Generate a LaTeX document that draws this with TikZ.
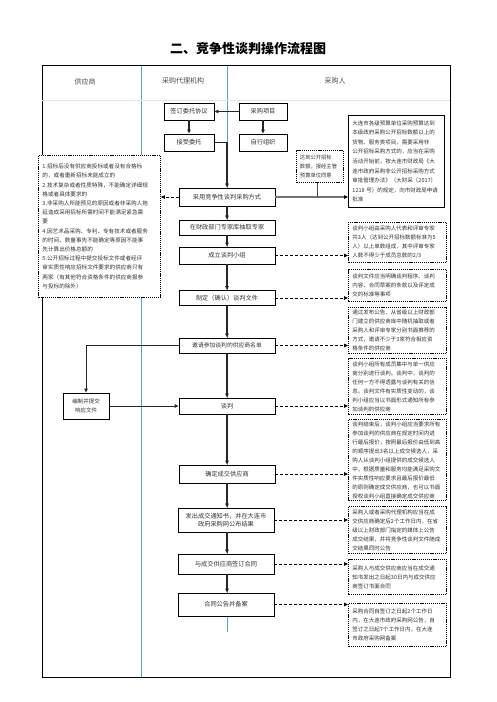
\documentclass[tikz,border=0pt]{standalone}
\usepackage{fontspec}
\setmainfont{Noto Sans CJK SC}
\usetikzlibrary{arrows.meta,positioning}
\definecolor{lineblue}{RGB}{91,155,213}

\begin{document}
\begin{tikzpicture}[x=1pt,y=-1pt,
  flowbox/.style={draw,line width=0.9pt,fill=white,minimum width=96pt,minimum height=17pt,inner sep=1pt,font=\fontsize{6.2}{8.5}\selectfont,text=black!80},
  notebox/.style={draw,line width=0.9pt,dash pattern=on 1.2pt off 0.9pt,fill=white,anchor=north west,text width=90pt,inner xsep=4pt,inner ysep=1pt,align=left,font=\fontsize{5.5}{9}\selectfont,text=black!80},
  go/.style={-{Triangle[length=4pt,width=3.6pt]},line width=1.1pt,black!85},
  hint/.style={-{Triangle[length=4pt,width=3.6pt]},line width=0.9pt,dash pattern=on 3pt off 2pt},
  colline/.style={draw=lineblue,line width=0.7pt}]
\useasboundingbox (0,0) rectangle (496,702);

\node[font=\fontsize{13}{15}\selectfont\bfseries] (title) at (248,49) {二、竞争性谈判操作流程图};

\draw[colline] (141,65) -- (141,677);
\draw[colline] (227,65) -- (227,632);
\draw[line width=1pt] (42,65) rectangle (450,677);
\draw[draw=lineblue!25,line width=0.5pt] (42,100) -- (450,100);
\node[font=\fontsize{7}{8}\selectfont,text=black!70] (supplier) at (85,82) {供应商};
\node[font=\fontsize{7}{8}\selectfont,text=black!70] (agency) at (183,81) {采购代理机构};
\node[font=\fontsize{7}{8}\selectfont,text=black!70] (buyer) at (335,81) {采购人};

\node[flowbox,minimum width=50pt] (sign) at (189,111.5) {签订委托协议};
\node[flowbox,minimum width=48pt] (proj) at (263,111.5) {采购项目};
\node[flowbox,minimum width=50pt] (accept) at (189,142.5) {接受委托};
\node[flowbox,minimum width=48pt] (self) at (263,142.5) {自行组织};
\node[flowbox,minimum height=18pt] (mode) at (227,197) {采用竞争性谈判采购方式};
\node[flowbox,minimum height=15pt] (expert) at (227,227.5) {在财政部门专家库抽取专家};
\node[flowbox] (group) at (227,255.5) {成立谈判小组};
\node[flowbox,minimum height=15pt] (doc) at (227,298) {制定（确认）谈判文件};
\node[flowbox,minimum height=15pt,font=\fontsize{5.8}{8}\selectfont] (invite) at (227,345.5) {邀请参加谈判的供应商名单};
\node[flowbox,minimum height=16pt] (nego) at (227,406) {谈判};
\node[flowbox,minimum height=18pt] (decide) at (227,474) {确定成交供应商};
\node[flowbox,minimum height=24pt,align=center] (notice) at (226,520) {发出成交通知书，并在大连市\\政府采购网公布结果};
\node[flowbox,minimum height=20pt] (contract) at (226,564) {与成交供应商签订合同};
\node[flowbox,minimum height=23pt] (record) at (226,604.5) {合同公告并备案};
\node[flowbox,minimum width=46pt,minimum height=26pt,align=center,font=\fontsize{5.5}{9}\selectfont] (respond) at (86,406) {编制并提交\\响应文件};

\node[notebox,text width=114pt,minimum height=142pt,font=\fontsize{5.6}{9.2}\selectfont] (cases) at (38,155) {1.招标后没有供应商投标或者没有合格标\\的，或者重新招标未能成立的\\2.技术复杂或者性质特殊，不能确定详细规\\格或者具体要求的\\3.非采购人所能预见的原因或者非采购人拖\\延造成采用招标所需时间不能满足紧急需\\要\\4.因艺术品采购、专利、专有技术或者服务\\的时间、数量事先不能确定等原因不能事\\先计算出价格总额的\\5.公开招标过程中提交投标文件或者经评\\审实质性响应招标文件要求的供应商只有\\两家（有其他符合资格条件的供应商报参\\与投标的除外）};
\node[notebox,text width=40pt,inner xsep=3.5pt,minimum height=32pt,font=\fontsize{5.3}{9}\selectfont] (limit) at (296,150) {达到公开招标\\数额，报经主管\\预算单位同意};
\node[draw,line width=0.9pt,fill=white,anchor=north west,text width=88pt,inner xsep=4pt,minimum height=92pt,align=left,font=\fontsize{5.5}{9.6}\selectfont,text=black!80] (approve) at (348,115) {大连市各级预算单位采购预算达到\\本级政府采购公开招标数额以上的\\货物、服务类项目，需要采用非\\公开招标采购方式的，应当在采购\\活动开始前，按大连市财政局《大\\连市政府采购非公开招标采购方式\\审批管理办法》（大财采〔2017〕\\1218 号）的规定，向市财政局申请\\批准};

\node[notebox,minimum height=40pt] (noteA) at (348,222) {谈判小组由采购人代表和评审专家\\共3人（达到公开招标数额标准为5\\人）以上单数组成，其中评审专家\\人数不得少于成员总数的2/3};
\node[notebox,minimum height=32pt] (noteB) at (348,269) {谈判文件应当明确谈判程序、谈判\\内容、合同草案的条款以及评定成\\交的标准等事项};
\node[notebox,minimum height=46pt] (noteC) at (348,307) {通过发布公告、从省级以上财政部\\门建立的供应商库中随机抽取或者\\采购人和评审专家分别书面推荐的\\方式，邀请不少于3家符合相应资\\格条件的供应商};
\node[notebox,minimum height=56pt] (noteD) at (348,358) {谈判小组所有成员集中与单一供应\\商分别进行谈判。谈判中，谈判的\\任何一方不得透露与谈判有关的信\\息。谈判文件有实质性变动的，谈\\判小组应当以书面形式通知所有参\\加谈判的供应商};
\node[notebox,minimum height=81pt] (noteE) at (348,419) {谈判结束后，谈判小组应当要求所有\\参加谈判的供应商在规定时间内进\\行最后报价，按照最后报价由低到高\\的顺序提出3名以上成交候选人，采\\购人从谈判小组提供的成交候选人\\中，根据质量和服务均能满足采购文\\件实质性响应要求且最后报价最低\\的原则确定成交供应商，也可以书面\\授权谈判小组直接确定成交供应商};
\node[notebox,minimum height=47pt] (noteF) at (348,506) {采购人或者采购代理机构应当在成\\交供应商确定后2个工作日内，在省\\级以上财政部门指定的媒体上公告\\成交结果，并将竞争性谈判文件随成\\交结果同时公告};
\node[notebox,minimum height=35pt] (noteG) at (348,559) {采购人与成交供应商应当在成交通\\知书发出之日起30日内与成交供应\\商签订书面合同};
\node[notebox,minimum height=43pt] (noteH) at (348,603) {采购合同自签订之日起2个工作日\\内，在大连市政府采购网公告，自\\签订之日起7个工作日内，在大连\\市政府采购网备案};

\draw[go] (proj) -- (sign);
\draw[go] (sign) -- (accept);
\draw[go] (proj) -- (self);
\draw[go] (accept.east) -| (mode.north);
\draw[line width=1.8pt,black!55,-{Triangle[length=4pt,width=3.6pt,black]}] (mode.east) -- (mode.east -| approve.west);
\draw[line width=1pt,black!70] (limit.south -| 317,0) -- (317,197);
\draw[hint] (mode.west) -- (mode.west -| cases.east);
\draw[go] (mode) -- (expert);
\draw[go] (expert) -- (group);
\draw[go] (group) -- (doc);
\draw[go] (doc) -- (invite);
\draw[go] (invite) -- (nego);
\draw[go] (nego) -- (decide);
\draw[go] (decide.south) -- (decide.south |- notice.north);
\draw[go] (notice.south -| decide.south) -- (decide.south |- contract.north);
\draw[go] (contract.south -| decide.south) -- (decide.south |- record.north);
\draw[go,line width=0.9pt] (invite.west) -| (respond.north);
\draw[go,line width=0.9pt] (respond) -- (nego);
\draw[hint] (group.east) -- (group.east -| noteA.west);
\draw[hint] (doc.east) -- (doc.east -| noteB.west);
\draw[hint] (invite.east) -- (invite.east -| noteC.west);
\draw[hint] (nego.east) -- (nego.east -| noteD.west);
\draw[hint] (decide.east) -- (decide.east -| noteE.west);
\draw[hint] (notice.east) -- (notice.east -| noteF.west);
\draw[hint] (contract.east) -- (contract.east -| noteG.west);
\draw[hint] (record.east) -- (record.east -| noteH.west);
\end{tikzpicture}
\end{document}
